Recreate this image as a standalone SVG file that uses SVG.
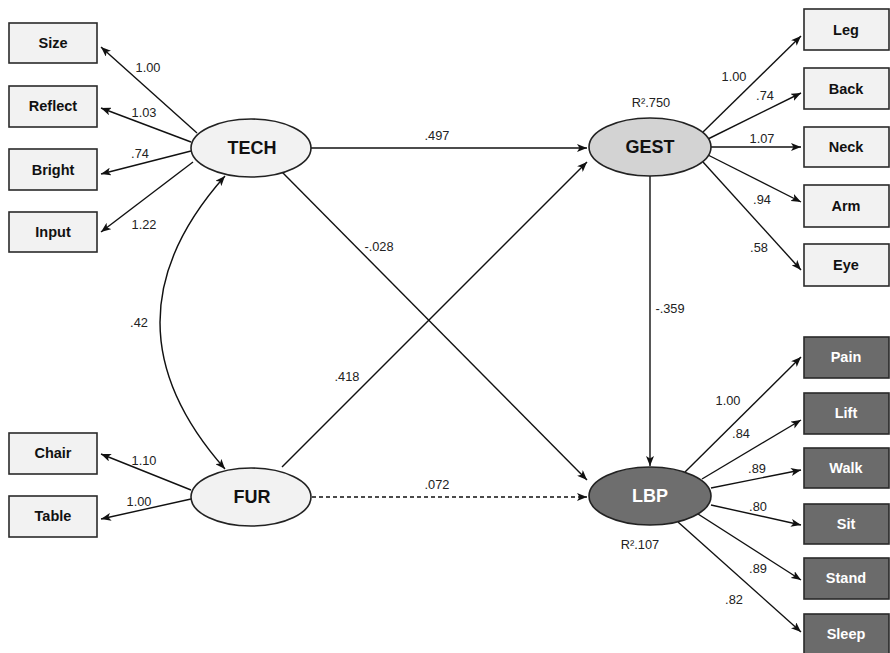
<svg xmlns="http://www.w3.org/2000/svg" width="890" height="653" viewBox="0 0 890 653">
<defs>
<marker id="ah" viewBox="0 0 10 8" markerWidth="10" markerHeight="8" refX="10" refY="4" orient="auto-start-reverse" markerUnits="userSpaceOnUse">
<path d="M0,0 L10,4 L0,8 L2.5,4 z" fill="#111"/>
</marker>
<style>
.box{fill:#f2f2f2;stroke:#2a2a2a;stroke-width:1.6}
.dbox{fill:#6b6b6b;stroke:#2a2a2a;stroke-width:1.6}
.lbl{font-family:"Liberation Sans",Arial,sans-serif;font-weight:bold;font-size:14.5px;text-anchor:middle;fill:#111}
.wlbl{font-family:"Liberation Sans",Arial,sans-serif;font-weight:bold;font-size:14.5px;text-anchor:middle;fill:#fff}
.big{font-family:"Liberation Sans",Arial,sans-serif;font-weight:bold;font-size:18px;text-anchor:middle;fill:#111}
.num{font-family:"Liberation Sans",Arial,sans-serif;font-size:12.8px;text-anchor:middle;fill:#222}
.c{stroke:#111;stroke-width:1.4;fill:none;marker-end:url(#ah)}
.el{stroke:#222;stroke-width:1.6}
</style>
</defs>

<g id="connectors">
<!-- TECH indicators -->
<line class="c" x1="197" y1="133" x2="101" y2="47"/>
<line class="c" x1="191" y1="142" x2="101" y2="108"/>
<line class="c" x1="191" y1="151" x2="101" y2="174"/>
<line class="c" x1="193" y1="162" x2="101" y2="232"/>
<!-- FUR indicators -->
<line class="c" x1="191" y1="490" x2="101" y2="454"/>
<line class="c" x1="191" y1="499" x2="101" y2="519"/>
<!-- structural -->
<line class="c" x1="311" y1="148" x2="587" y2="148"/>
<line class="c" x1="282" y1="172" x2="587" y2="480"/>
<line class="c" x1="282" y1="467" x2="587" y2="162"/>
<line class="c" x1="312" y1="497" x2="587" y2="497" stroke-dasharray="4,3"/>
<line class="c" x1="650" y1="176" x2="650" y2="466"/>
<path class="c" d="M225,176 Q95,322 225,469" marker-start="url(#ah)"/>
<!-- GEST indicators -->
<line class="c" x1="703" y1="132" x2="801" y2="36"/>
<line class="c" x1="708" y1="139" x2="801" y2="93"/>
<line class="c" x1="711" y1="147" x2="801" y2="147"/>
<line class="c" x1="708" y1="155" x2="801" y2="202"/>
<line class="c" x1="703" y1="162" x2="801" y2="270"/>
<!-- LBP indicators -->
<line class="c" x1="685" y1="472" x2="801" y2="357"/>
<line class="c" x1="702" y1="479" x2="801" y2="420"/>
<line class="c" x1="711" y1="488" x2="801" y2="470"/>
<line class="c" x1="711" y1="505" x2="801" y2="525"/>
<line class="c" x1="698" y1="514" x2="801" y2="580"/>
<line class="c" x1="678" y1="522" x2="801" y2="632"/>
<!-- labels -->
<text class="num" x="148" y="72">1.00</text>
<text class="num" x="144" y="117">1.03</text>
<text class="num" x="140" y="158">.74</text>
<text class="num" x="144" y="229">1.22</text>
<text class="num" x="139" y="327">.42</text>
<text class="num" x="144" y="465">1.10</text>
<text class="num" x="139" y="506">1.00</text>
<text class="num" x="437" y="140">.497</text>
<text class="num" x="379" y="251">-.028</text>
<text class="num" x="347" y="381">.418</text>
<text class="num" x="437" y="489">.072</text>
<text class="num" x="670" y="313">-.359</text>
<text class="num" x="651" y="107">R².750</text>
<text class="num" x="640" y="549">R².107</text>
<text class="num" x="734" y="81">1.00</text>
<text class="num" x="765" y="100">.74</text>
<text class="num" x="762" y="143">1.07</text>
<text class="num" x="762" y="204">.94</text>
<text class="num" x="759" y="252">.58</text>
<text class="num" x="728" y="405">1.00</text>
<text class="num" x="741" y="438">.84</text>
<text class="num" x="757" y="473">.89</text>
<text class="num" x="758" y="511">.80</text>
<text class="num" x="758" y="573">.89</text>
<text class="num" x="734" y="604">.82</text>
</g>

<g id="Size"><rect class="box" x="9" y="23" width="88" height="40"/><text class="lbl" x="53" y="48">Size</text></g>
<g id="Reflect"><rect class="box" x="9" y="86" width="88" height="41"/><text class="lbl" x="53" y="111">Reflect</text></g>
<g id="Bright"><rect class="box" x="9" y="149" width="88" height="41"/><text class="lbl" x="53" y="175">Bright</text></g>
<g id="Input"><rect class="box" x="9" y="212" width="88" height="40"/><text class="lbl" x="53" y="237">Input</text></g>
<g id="Chair"><rect class="box" x="9" y="433" width="88" height="41"/><text class="lbl" x="53" y="458">Chair</text></g>
<g id="Table"><rect class="box" x="9" y="496" width="88" height="41"/><text class="lbl" x="53" y="521">Table</text></g>

<g id="TECH"><ellipse class="el" cx="251" cy="148" rx="60" ry="29" fill="#f2f2f2"/><text class="big" x="252" y="154">TECH</text></g>
<g id="FUR"><ellipse class="el" cx="251" cy="497" rx="60" ry="29" fill="#f2f2f2"/><text class="big" x="252" y="503">FUR</text></g>
<g id="GEST"><ellipse class="el" cx="650" cy="147" rx="61" ry="29" fill="#d3d3d3"/><text class="big" x="650" y="153">GEST</text></g>
<g id="LBP"><ellipse class="el" cx="650" cy="496" rx="61" ry="29" fill="#6e6e6e"/><text class="big" x="650" y="502" style="fill:#fff">LBP</text></g>

<g id="Leg"><rect class="box" x="804" y="9" width="85" height="41"/><text class="lbl" x="846" y="35">Leg</text></g>
<g id="Back"><rect class="box" x="804" y="68" width="85" height="41"/><text class="lbl" x="846" y="94">Back</text></g>
<g id="Neck"><rect class="box" x="804" y="127" width="85" height="40"/><text class="lbl" x="846" y="152">Neck</text></g>
<g id="Arm"><rect class="box" x="804" y="185" width="85" height="42"/><text class="lbl" x="846" y="211">Arm</text></g>
<g id="Eye"><rect class="box" x="804" y="244" width="85" height="42"/><text class="lbl" x="846" y="270">Eye</text></g>

<g id="Pain"><rect class="dbox" x="804" y="337" width="85" height="41"/><text class="wlbl" x="846" y="362">Pain</text></g>
<g id="Lift"><rect class="dbox" x="804" y="393" width="85" height="41"/><text class="wlbl" x="846" y="418">Lift</text></g>
<g id="Walk"><rect class="dbox" x="804" y="448" width="85" height="40"/><text class="wlbl" x="846" y="473">Walk</text></g>
<g id="Sit"><rect class="dbox" x="804" y="504" width="85" height="40"/><text class="wlbl" x="846" y="529">Sit</text></g>
<g id="Stand"><rect class="dbox" x="804" y="558" width="85" height="41"/><text class="wlbl" x="846" y="583">Stand</text></g>
<g id="Sleep"><rect class="dbox" x="804" y="614" width="85" height="41"/><text class="wlbl" x="846" y="639">Sleep</text></g>
</svg>
